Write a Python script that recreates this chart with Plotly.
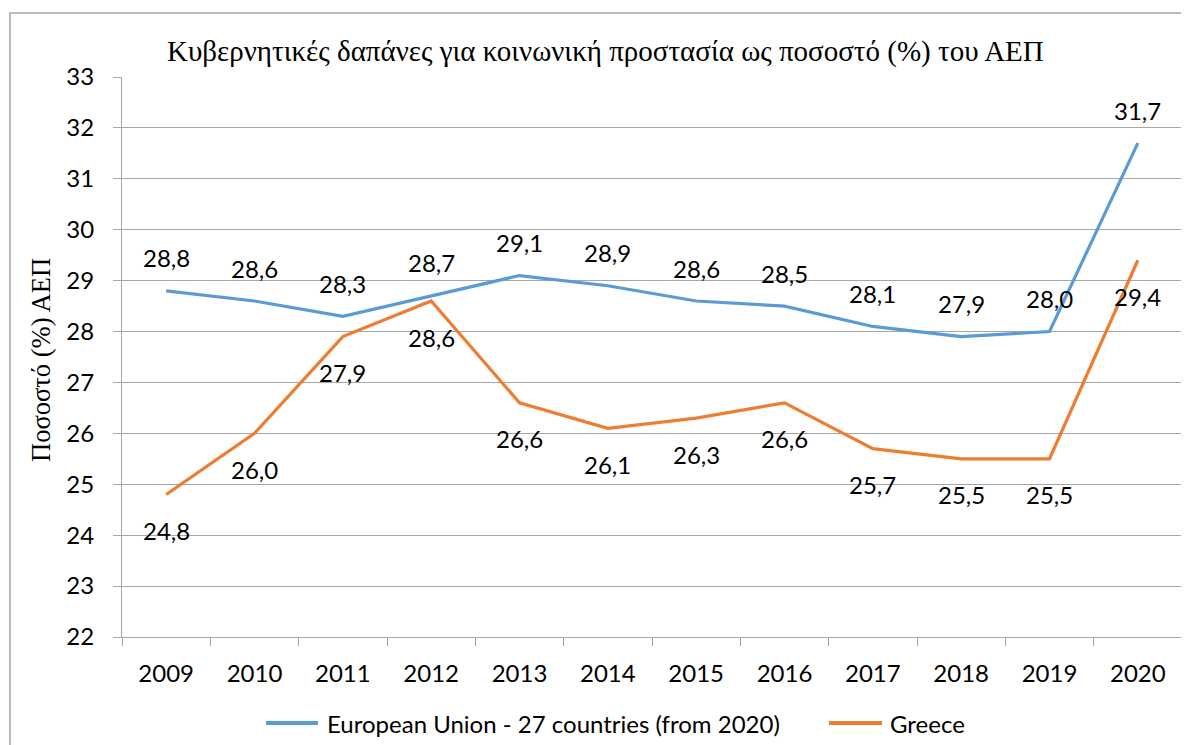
import plotly.graph_objects as go

years = ["2009", "2010", "2011", "2012", "2013", "2014", "2015", "2016", "2017", "2018", "2019", "2020"]
eu_values = [28.8, 28.6, 28.3, 28.7, 29.1, 28.9, 28.6, 28.5, 28.1, 27.9, 28.0, 31.7]
greece_values = [24.8, 26.0, 27.9, 28.6, 26.6, 26.1, 26.3, 26.6, 25.7, 25.5, 25.5, 29.4]
eu_name = "European Union - 27 countries (from 2020)"
greece_name = "Greece"
title_text = "Κυβερνητικές δαπάνες για κοινωνική προστασία ως ποσοστό (%) του ΑΕΠ"
ytitle_text = "Ποσοστό (%) ΑΕΠ"

BLUE = "#5B9BD5"
ORANGE = "#ED7D31"
GRID = "#a6a6a6"
SANS = "Lato, 'Open Sans', sans-serif"
SERIF = "'Liberation Serif', 'DejaVu Serif', serif"
FS = 24

OFF = 8  # page body margin
W, H = 1189 - OFF, 745 - OFF
L, R, T, B = 122 - OFF, 1182 - OFF, 77 - OFF, 637 - OFF


def px(x):
    return (x - OFF - L) / (R - L)


def py(y):
    return (B - (y - OFF)) / (B - T)


fig = go.Figure()
fig.add_trace(go.Scatter(x=years, y=eu_values, mode="lines", name=eu_name,
                         line=dict(color=BLUE, width=3.2), showlegend=False))
fig.add_trace(go.Scatter(x=years, y=greece_values, mode="lines", name=greece_name,
                         line=dict(color=ORANGE, width=3.2), showlegend=False))

annotations = []
for i, v in enumerate(eu_values):
    annotations.append(dict(x=i, y=v, xref="x", yref="y", text=f"{v:.1f}".replace(".", ","),
                            showarrow=False, yshift=33, font=dict(family=SANS, size=FS, color="#000")))
for i, v in enumerate(greece_values):
    annotations.append(dict(x=i, y=v, xref="x", yref="y", text=f"{v:.1f}".replace(".", ","),
                            showarrow=False, yshift=-36, font=dict(family=SANS, size=FS, color="#000")))

# title
annotations.append(dict(x=px(605), y=py(52), xref="paper", yref="paper", text=title_text,
                        showarrow=False, xanchor="center", yanchor="middle",
                        font=dict(family=SERIF, size=29, color="#000")))
# y-axis title
annotations.append(dict(x=px(41), y=py(360), xref="paper", yref="paper", text=ytitle_text,
                        showarrow=False, textangle=-90, xanchor="center", yanchor="middle",
                        font=dict(family=SERIF, size=26.5, color="#000")))

# manual legend
shapes = []
legend_items = [(eu_name, BLUE, 266, 318, 325), (greece_name, ORANGE, 829, 882, 888)]
for name, col, x0, x1, xt in legend_items:
    shapes.append(dict(type="line", xref="paper", yref="paper", x0=px(x0), x1=px(x1),
                       y0=py(723), y1=py(723), line=dict(color=col, width=4)))
    annotations.append(dict(x=px(xt), y=py(723), xref="paper", yref="paper", text=name,
                            showarrow=False, xanchor="left", yanchor="middle",
                            font=dict(family=SANS, size=FS, color="#000")))

# outer chart border
shapes.append(dict(type="rect", xref="paper", yref="paper", x0=px(10), x1=px(1189 + 20),
                   y0=py(745 + 20), y1=py(13), line=dict(color="#a6a6a6", width=1.5),
                   fillcolor="rgba(0,0,0,0)", layer="below"))

fig.update_layout(
    width=W, height=H,
    margin=dict(l=L, r=W - R, t=T, b=H - B),
    paper_bgcolor="white", plot_bgcolor="white",
    annotations=annotations, shapes=shapes,
    showlegend=False,
    xaxis=dict(type="category", range=[-0.5, 11.5], tickson="boundaries", ticks="outside",
               ticklen=8, tickcolor=GRID, showline=True, linecolor=GRID, linewidth=1,
               showgrid=False, tickfont=dict(family=SANS, size=FS, color="#000"),
               ticklabelstandoff=15, fixedrange=True),
    yaxis=dict(range=[22, 33], dtick=1, ticks="outside", ticklen=8, tickcolor=GRID,
               showline=True, linecolor=GRID, linewidth=1, gridcolor=GRID, gridwidth=1,
               zeroline=False, tickfont=dict(family=SANS, size=FS, color="#000"),
               ticklabelstandoff=14, fixedrange=True),
)

fig.write_html("out.html")
